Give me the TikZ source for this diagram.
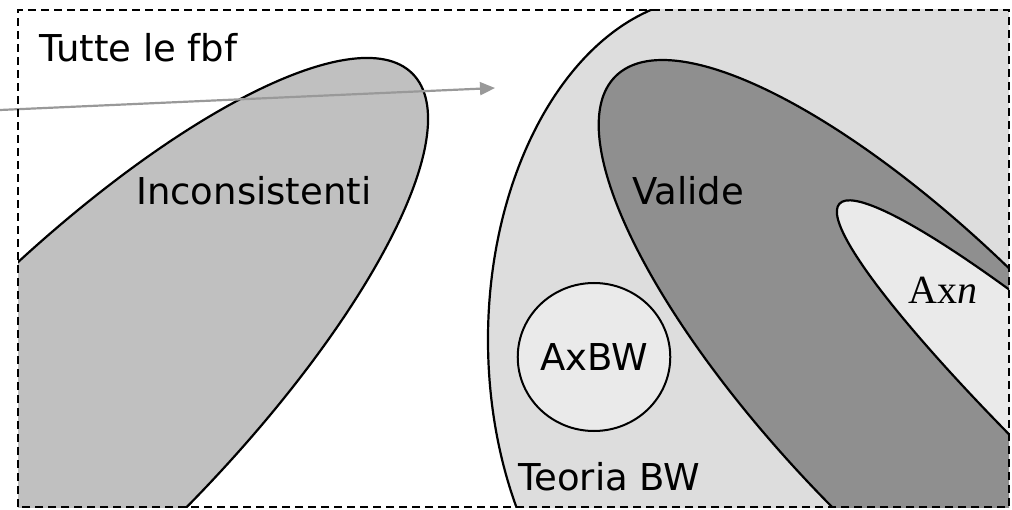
\documentclass[tikz,border=0pt]{standalone}
\usepackage{fontspec}
\setmainfont{DejaVu Sans}
\newfontfamily\axfont{Liberation Serif}
\usetikzlibrary{arrows.meta, shapes.geometric}

\definecolor{grigioinc}{HTML}{C0C0C0}
\definecolor{grigioteo}{HTML}{DDDDDD}
\definecolor{grigioval}{HTML}{8F8F8F}
\definecolor{grigiochiaro}{HTML}{EAEAEA}
\definecolor{grigiofreccia}{HTML}{999999}

\begin{document}
\begin{tikzpicture}[x=1pt, y=1pt,
    insieme/.style={draw=black, line width=2.2pt},
    etichetta/.style={anchor=base west, inner sep=0pt, font=\fontsize{37}{44}\selectfont}]

  \useasboundingbox (0,0) rectangle (1012,509);

  % angoli della cornice (tutte le fbf)
  \coordinate (sw) at (18,2);
  \coordinate (ne) at (1009,499);

  \begin{scope}
    \clip (sw) rectangle (ne);

    % Inconsistenti
    \draw[insieme, fill=grigioinc, rotate around={45:(73,96)}] (73,96) ellipse [x radius=480pt, y radius=147pt];

    % Teoria BW: solo il bordo sinistro e' dentro la cornice
    \coordinate (bw) at (712,169);
    \draw[insieme, fill=grigioteo] ([shift={(95:224pt and 343pt)}]bw)
      arc[start angle=95, end angle=215, x radius=224pt, y radius=343pt]
      -- (1030,-30) -- (1030,530) -- cycle;

    % Valide
    \draw[insieme, fill=grigioval, rotate around={-45.6:(932,110)}] (932,110) ellipse [x radius=452pt, y radius=147pt];

    % Axn
    \draw[insieme, fill=grigiochiaro, rotate around={-42:(1205,-24)}] (1205,-24) ellipse [x radius=492pt, y radius=64pt];
  \end{scope}

  % AxBW
  \node[ellipse, draw, line width=2pt, fill=grigiochiaro, minimum width=138pt, minimum height=148pt,
        inner sep=0pt, font=\fontsize{37}{44}\selectfont] (axbw) at (594,152) {AxBW};

  % freccia
  \coordinate (da) at (0,399);
  \coordinate (a) at (495,421);
  \draw[grigiofreccia, line width=2.2pt, -{Triangle[length=15pt, width=13pt]}] (da) -- (a);

  % etichette
  \node[etichetta] (tutte) at (39,447) {Tutte le fbf};
  \node[etichetta] (incons) at (136,304) {Inconsistenti};
  \node[etichetta] (valide) at (632,304) {Valide};
  \node[etichetta] (teoria) at (518,19) {Teoria BW};
  \node[anchor=base west, inner sep=0pt, font=\axfont\fontsize{40}{48}\selectfont] (axn) at (908,205) {Ax\textit{n}};

  % cornice
  \draw[line width=2.4pt, dash pattern=on 8pt off 5pt] (sw) rectangle (ne);

\end{tikzpicture}
\end{document}
